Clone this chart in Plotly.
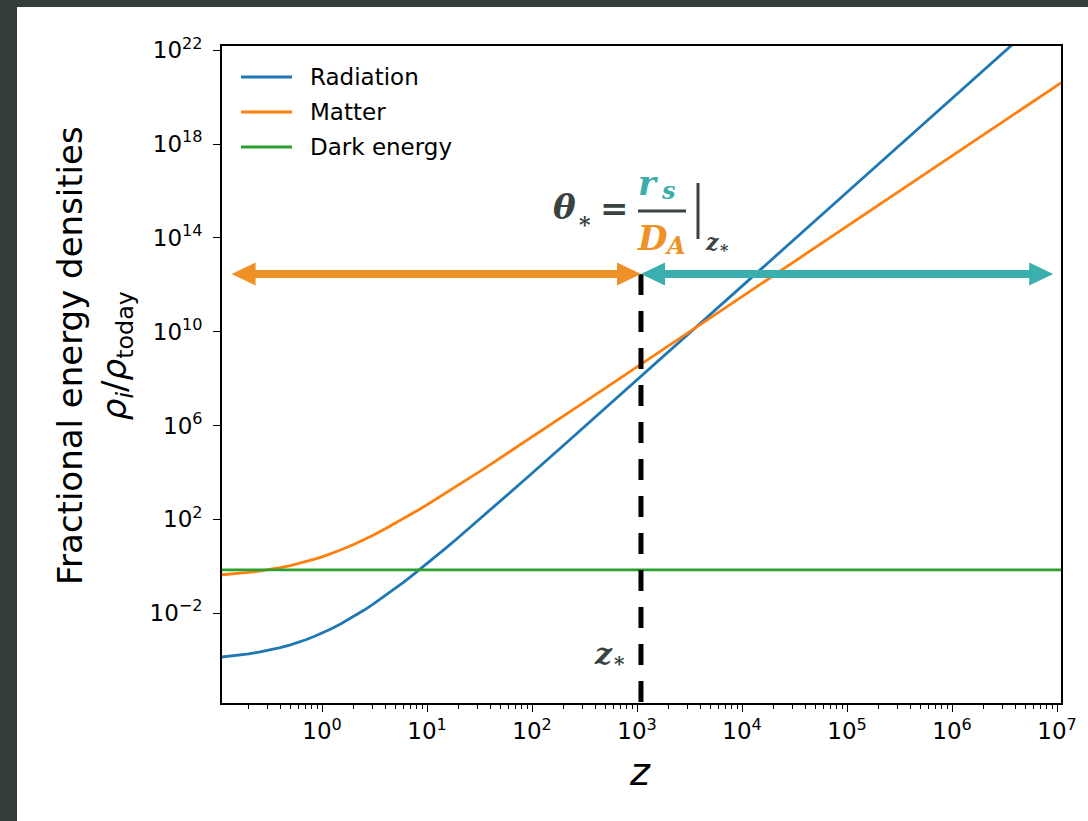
import plotly.graph_objects as go

# ---- data: energy densities relative to today, versus redshift ----
z = [0.11, 0.15, 0.2, 0.25, 0.3, 0.4, 0.5, 0.6, 0.7, 0.85, 1, 1.2, 1.5, 2,
     2.5, 3, 4, 5, 6, 7, 8.5, 10, 15, 20, 30, 40, 50, 70, 100, 200, 300,
     1e3, 1e4, 1e5, 1e6, 1.1e7]
radiation = [1.33e-4, 1.53e-4, 1.82e-4, 2.14e-4, 2.50e-4, 3.36e-4, 4.43e-4,
             5.73e-4, 7.31e-4, 1.03e-3, 1.40e-3, 2.05e-3, 3.42e-3, 7.08e-3,
             1.31e-2, 2.24e-2, 5.47e-2, 0.113, 0.210, 0.358, 0.713, 1.28, 5.73,
             17.0, 80.9, 247, 592, 2.22e3, 9.10e3, 1.43e5, 7.18e5, 8.79e7,
             8.75e11, 8.75e15, 8.75e19, 1.28e24]
matter = [0.429, 0.475, 0.541, 0.611, 0.687, 0.857, 1.05, 1.28, 1.53, 1.98,
          2.50, 3.33, 4.89, 8.43, 13.4, 20.0, 39.1, 67.6, 107, 160, 268, 416,
          1.28e3, 2.90e3, 9.31e3, 2.15e4, 4.15e4, 1.12e5, 3.22e5, 2.54e6,
          8.53e6, 3.13e8, 3.13e11, 3.13e14, 3.13e17, 4.16e20]
z_de = [0.11, 1.1e7]
dark_energy = [0.70, 0.70]

series_names = ["Radiation", "Matter", "Dark energy"]
series_colors = ["#1f77b4", "#ff7f0e", "#2ca02c"]

x_tickvals = [1e0, 1e1, 1e2, 1e3, 1e4, 1e5, 1e6, 1e7]
x_ticktext = ["10<sup>0</sup>", "10<sup>1</sup>", "10<sup>2</sup>", "10<sup>3</sup>",
              "10<sup>4</sup>", "10<sup>5</sup>", "10<sup>6</sup>", "10<sup>7</sup>"]
y_tickvals = [1e-2, 1e2, 1e6, 1e10, 1e14, 1e18, 1e22]
y_ticktext = ["10<sup>\u22122</sup>", "10<sup>2</sup>", "10<sup>6</sup>", "10<sup>10</sup>",
              "10<sup>14</sup>", "10<sup>18</sup>", "10<sup>22</sup>"]

# recombination redshift and the level of the two distance arrows
Z_STAR = 1090
ARROW_Y = 2.9e12
Z_ARROW_LEFT = 0.1375
Z_ARROW_RIGHT = 9.2e6

X_RANGE = [-0.953, 7.038]
Y_RANGE = [-5.835, 22.18]

W, H = 1088, 821
ML, MR, MT, MB = 222, 27, 46, 118
PW, PH = W - ML - MR, H - MT - MB

ORANGE = "#ee9126"
TEAL = "#3aafae"
DARK = "#3a4341"
FRAME = "#353d3b"


def px_x(p):
    return (p - ML) / PW


def px_y(p):
    return (H - MB - p) / PH


fig = go.Figure()
for xs, ys, name, color in zip([z, z, z_de], [radiation, matter, dark_energy],
                               series_names, series_colors):
    fig.add_trace(go.Scatter(x=xs, y=ys, mode="lines", name=name,
                             line=dict(color=color, width=2.8), showlegend=False))

shapes = []
annotations = []

# dark border strips of the page
shapes.append(dict(type="rect", xref="paper", yref="paper", x0=px_x(0), x1=px_x(17),
                   y0=px_y(H), y1=px_y(0), fillcolor=FRAME, line=dict(width=0), layer="below"))
shapes.append(dict(type="rect", xref="paper", yref="paper", x0=px_x(0), x1=px_x(W),
                   y0=px_y(7), y1=px_y(0), fillcolor=FRAME, line=dict(width=0), layer="below"))

# dashed marker at z_*
shapes.append(dict(type="line", xref="x", yref="y", x0=Z_STAR, x1=Z_STAR,
                   y0=ARROW_Y, y1=10 ** Y_RANGE[0],
                   line=dict(color="black", width=5, dash="21px,16px"), layer="above"))

# double arrows (sizes given in pixels, converted to decades on each axis)
px_per_dec_x = PW / (X_RANGE[1] - X_RANGE[0])
px_per_dec_y = PH / (Y_RANGE[1] - Y_RANGE[0])
head_len = 10 ** (24 / px_per_dec_x)
head_half = 10 ** (11.5 / px_per_dec_y)


def head(tip, direction, color):
    base = tip * head_len if direction < 0 else tip / head_len
    path = (f"M {tip},{ARROW_Y} L {base},{ARROW_Y * head_half} "
            f"L {base},{ARROW_Y / head_half} Z")
    return dict(type="path", xref="x", yref="y", path=path, fillcolor=color,
                line=dict(width=0), layer="above")


for x0, x1, color in [(Z_ARROW_LEFT, Z_STAR, ORANGE), (Z_STAR, Z_ARROW_RIGHT, TEAL)]:
    shapes.append(dict(type="line", xref="x", yref="y", x0=x0 * head_len * 0.9,
                       x1=x1 / head_len / 0.9, y0=ARROW_Y, y1=ARROW_Y,
                       line=dict(color=color, width=8), layer="above"))
    shapes.append(head(x0, -1, color))
    shapes.append(head(x1, +1, color))

# legend drawn inside the axes
for i, (name, color) in enumerate(zip(series_names, series_colors)):
    yy = 77 + 35 * i
    shapes.append(dict(type="line", xref="paper", yref="paper", x0=px_x(241), x1=px_x(292),
                       y0=px_y(yy), y1=px_y(yy), line=dict(color=color, width=3)))
    annotations.append(dict(xref="paper", yref="paper", x=px_x(308), y=px_y(yy),
                            xanchor="left", yanchor="middle", showarrow=False, text=name,
                            font=dict(family="DejaVu Sans", size=23, color="black")))

# theta_* = r_s / D_A evaluated at z_*
SERIF = "DejaVu Serif"


def label(text, x, y, size, color, anchor="center"):
    annotations.append(dict(xref="paper", yref="paper", x=px_x(x), y=px_y(y),
                            xanchor=anchor, yanchor="middle", showarrow=False,
                            text=f"<b><i>{text}</i></b>",
                            font=dict(family=SERIF, size=size, color=color)))


label("θ", 564, 207, 34, DARK)
label("*", 585, 224, 22, DARK)
annotations.append(dict(xref="paper", yref="paper", x=px_x(614), y=px_y(208),
                        xanchor="center", yanchor="middle", showarrow=False,
                        text="<b>=</b>", font=dict(family=SERIF, size=34, color=DARK)))
label("r", 648, 183, 34, TEAL)
label("s", 668, 190, 24, TEAL)
label("D", 652, 238, 34, ORANGE)
label("A", 675, 245, 24, ORANGE)
shapes.append(dict(type="line", xref="paper", yref="paper", x0=px_x(638), x1=px_x(686),
                   y0=px_y(211), y1=px_y(211), line=dict(color=DARK, width=3)))
shapes.append(dict(type="line", xref="paper", yref="paper", x0=px_x(698), x1=px_x(698),
                   y0=px_y(183), y1=px_y(239), line=dict(color=DARK, width=3)))
label("z", 712, 242, 22, DARK)
label("*", 724, 250, 16, DARK)

# z_* tag next to the dashed line
label("z", 603, 653, 30, DARK)
label("*", 619, 664, 20, DARK)

# axis titles
annotations.append(dict(xref="paper", yref="paper", x=px_x(94), y=px_y(356),
                        xanchor="center", yanchor="middle", showarrow=False, textangle=-90,
                        text="Fractional energy densities<br><i>ρ<sub>i</sub></i>/<i>ρ</i><sub>today</sub>",
                        font=dict(family="DejaVu Sans", size=34, color="black")))
annotations.append(dict(xref="paper", yref="paper", x=px_x(640), y=px_y(772),
                        xanchor="center", yanchor="middle", showarrow=False,
                        text="<i>z</i>", font=dict(family="DejaVu Sans", size=38, color="black")))

axis_common = dict(type="log", showgrid=False, zeroline=False, showline=True,
                   linecolor="black", linewidth=1.6, mirror=True, ticks="outside",
                   ticklen=7, tickwidth=1.3, tickcolor="black",
                   tickfont=dict(family="DejaVu Sans", size=23, color="black"))

fig.update_layout(
    width=W, height=H,
    margin=dict(l=ML, r=MR, t=MT, b=MB),
    paper_bgcolor="white", plot_bgcolor="white",
    xaxis=dict(range=X_RANGE, tickmode="array", tickvals=x_tickvals, ticktext=x_ticktext,
               minor=dict(ticks="outside", ticklen=4, tickwidth=1, tickcolor="black",
                          dtick="D1"),
               **axis_common),
    yaxis=dict(range=Y_RANGE, tickmode="array", tickvals=y_tickvals, ticktext=y_ticktext,
               ticklabelstandoff=6, **axis_common),
    shapes=shapes,
    annotations=annotations,
    showlegend=False,
)

fig.write_html("out.html")
